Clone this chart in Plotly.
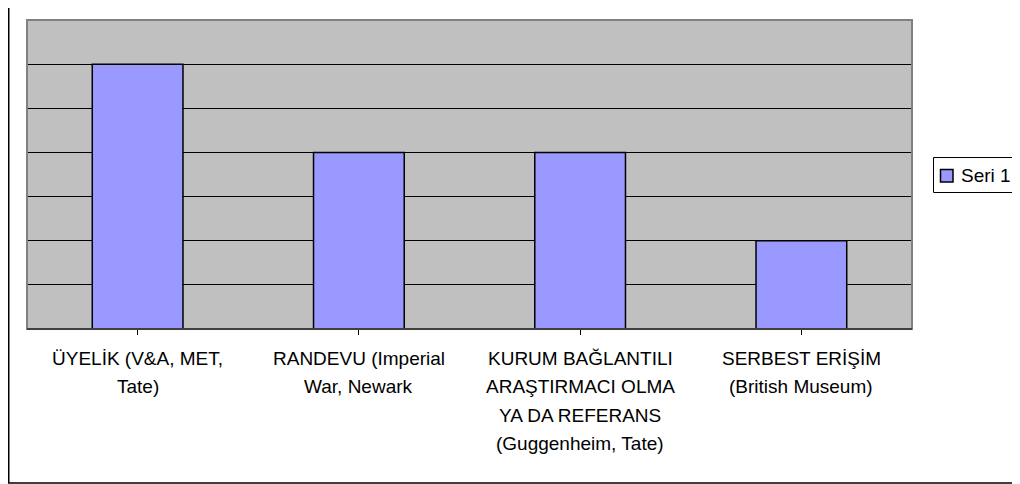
import plotly.graph_objects as go

categories = ["ÜYELİK (V&A, MET,<br>Tate)", "RANDEVU (Imperial<br>War, Newark",
              "KURUM BAĞLANTILI<br>ARAŞTIRMACI OLMA<br>YA DA REFERANS<br>(Guggenheim, Tate)",
              "SERBEST ERİŞİM<br>(British Museum)"]
values = [6, 4, 4, 2]
series_name = "Seri 1"

# figure is placed by the page at an 8px offset
W, H = 1012, 476
L, R, T, B = 19, 108, 12, 155
PW, PH = W - L - R, H - T - B
FONT = "Liberation Sans, Arial"
BAR_COLOR = "#9999FF"


def px(x):
    return (x - L) / PW


def py(y):
    return 1 - (y - T) / PH


fig = go.Figure()
fig.add_trace(go.Bar(
    x=list(range(len(categories))), y=values, name=series_name,
    marker=dict(color=BAR_COLOR, line=dict(color="black", width=1.5)),
    showlegend=False,
))

annotations = []
for i, lab in enumerate(categories):
    for j, line in enumerate(lab.split("<br>")):
        annotations.append(dict(
            x=i, xref="x", y=0, yref="paper", yanchor="middle", xanchor="center",
            yshift=-(29 + 28.5 * j), text=line, showarrow=False,
            font=dict(family=FONT, size=19, color="black"),
        ))

# legend (drawn manually to match the compact box)
annotations.append(dict(
    x=px(951), xref="paper", y=py(167), yref="paper", xanchor="left", yanchor="middle",
    text=series_name, showarrow=False, font=dict(family=FONT, size=19, color="black"),
))

fig.update_layout(
    width=W, height=H,
    margin=dict(l=L, r=R, t=T, b=B, autoexpand=False),
    paper_bgcolor="white", plot_bgcolor="#C0C0C0",
    bargap=0.59, showlegend=False,
    font=dict(family=FONT, size=16, color="black"),
    xaxis=dict(range=[-0.5, 3.5], tickvals=[0, 1, 2, 3], ticktext=["", "", "", ""],
               tickson="boundaries", ticks="outside", ticklen=5, tickcolor="black",
               showgrid=False, showline=True, linecolor="black", linewidth=1,
               zeroline=False, fixedrange=True),
    yaxis=dict(range=[0, 7], dtick=1, showticklabels=False, ticks="",
               showgrid=True, gridcolor="black", gridwidth=1,
               zeroline=False, showline=False, fixedrange=True),
    annotations=annotations,
    shapes=[
        dict(type="rect", xref="paper", yref="paper", x0=0, x1=1, y0=0, y1=1,
             line=dict(color="#808080", width=2), layer="above"),
        dict(type="line", xref="paper", yref="paper", x0=0, x1=1, y0=0, y1=0,
             line=dict(color="black", width=1), layer="above"),
        # outer chart border
        dict(type="rect", xref="paper", yref="paper",
             x0=px(0.75), x1=px(1030), y0=py(475), y1=py(-10),
             line=dict(color="black", width=1.5), layer="below"),
        # legend box
        dict(type="rect", xref="paper", yref="paper",
             x0=px(925.5), x1=px(1010.5), y0=py(184.5), y1=py(149.5),
             line=dict(color="black", width=1), fillcolor="white", layer="above"),
        # legend symbol
        dict(type="rect", xref="paper", yref="paper",
             x0=px(932.5), x1=px(945), y0=py(174), y1=py(161.5),
             line=dict(color="black", width=1.5), fillcolor=BAR_COLOR, layer="above"),
    ],
)

fig.write_html("out.html")
